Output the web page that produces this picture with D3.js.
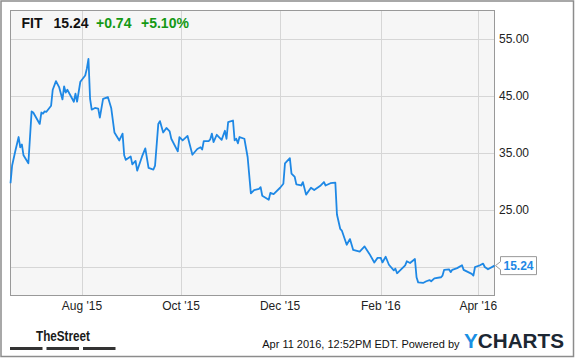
<html>
<head>
<script src="https://d3js.org/d3.v7.min.js"></script>
<title>FIT</title>
<style>
  body { margin: 0; padding: 0; background: #fff; }
  svg { display: block; font-family: "Liberation Sans", Arial, sans-serif; }
</style>
</head>
<body>
<script>

var dates = [
  "2015-06-18","2015-06-19","2015-06-21","2015-06-23","2015-06-24","2015-06-25","2015-06-26","2015-06-29",
  "2015-07-01","2015-07-02","2015-07-06","2015-07-07","2015-07-08","2015-07-09","2015-07-10","2015-07-13",
  "2015-07-14","2015-07-16","2015-07-18","2015-07-20","2015-07-21","2015-07-22","2015-07-23","2015-07-27",
  "2015-07-28","2015-07-29","2015-07-31","2015-08-03","2015-08-04","2015-08-05","2015-08-06","2015-08-07",
  "2015-08-09","2015-08-11","2015-08-12","2015-08-14","2015-08-17","2015-08-19","2015-08-21","2015-08-24",
  "2015-08-26","2015-08-27","2015-08-28","2015-08-31","2015-09-01","2015-09-03","2015-09-04","2015-09-07",
  "2015-09-09","2015-09-11","2015-09-14","2015-09-15","2015-09-17","2015-09-18","2015-09-20","2015-09-22",
  "2015-09-24","2015-09-25","2015-09-29","2015-09-30","2015-10-02","2015-10-05","2015-10-08","2015-10-11",
  "2015-10-13","2015-10-14","2015-10-15","2015-10-18","2015-10-19","2015-10-20","2015-10-21","2015-10-23",
  "2015-10-26","2015-10-28","2015-10-29","2015-10-30","2015-11-02","2015-11-03","2015-11-04","2015-11-05",
  "2015-11-06","2015-11-09","2015-11-11","2015-11-13","2015-11-15","2015-11-18","2015-11-19","2015-11-20",
  "2015-11-24","2015-11-25","2015-11-27","2015-12-01","2015-12-03","2015-12-04","2015-12-07","2015-12-08",
  "2015-12-10","2015-12-11","2015-12-14","2015-12-15","2015-12-17","2015-12-20","2015-12-22","2015-12-26",
  "2015-12-28","2015-12-29","2016-01-01","2016-01-04","2016-01-05","2016-01-07","2016-01-08","2016-01-11",
  "2016-01-13","2016-01-15","2016-01-19","2016-01-22","2016-01-25","2016-01-28","2016-01-30","2016-02-01",
  "2016-02-02","2016-02-04","2016-02-06","2016-02-09","2016-02-10","2016-02-11","2016-02-16","2016-02-17",
  "2016-02-19","2016-02-22","2016-02-23","2016-02-24","2016-02-27","2016-02-29","2016-03-02","2016-03-03",
  "2016-03-05","2016-03-09","2016-03-10","2016-03-11","2016-03-14","2016-03-15","2016-03-16","2016-03-19",
  "2016-03-22","2016-03-23","2016-03-28","2016-03-29","2016-03-30","2016-04-02","2016-04-04","2016-04-05",
  "2016-04-07","2016-04-11"
];

var prices = [
  29.7, 32.8, 35.4, 37.8, 36.0, 36.5, 34.6, 33.2,
  42.3, 42.1, 40.1, 42.1, 41.9, 42.3, 42.2, 43.3,
  46.1, 47.6, 46.5, 44.4, 46.7, 45.6, 46.1, 44.0,
  45.4, 44.0, 47.5, 48.6, 49.8, 51.5, 44.5, 42.6,
  42.9, 42.8, 41.2, 44.5, 44.8, 42.9, 38.6, 37.2,
  38.4, 34.6, 33.8, 34.4, 33.0, 33.6, 31.9, 34.4,
  35.8, 32.4, 32.1, 32.8, 40.1, 40.6, 38.6, 39.4,
  38.8, 37.5, 35.3, 37.8, 37.2, 38.0, 34.7, 35.7,
  36.0, 35.6, 37.1, 37.1, 37.4, 38.4, 36.9, 38.2,
  37.3, 38.9, 37.5, 40.4, 40.7, 37.2, 37.5, 36.7,
  37.8, 37.5, 34.3, 27.9, 28.5, 28.7, 29.0, 27.5,
  26.8, 28.0, 27.8, 28.9, 29.6, 33.2, 34.1, 31.4,
  30.8, 29.5, 29.3, 29.9, 27.7, 28.9, 28.5, 29.3,
  29.9, 29.3, 29.7, 29.8, 24.2, 21.7, 21.4, 18.9,
  19.9, 18.0, 17.7, 18.6, 17.3, 15.8, 16.6, 16.6,
  15.8, 16.8, 15.4, 14.4, 14.7, 13.9, 15.3, 16.0,
  15.7, 16.4, 13.2, 12.3, 12.2, 12.5, 12.7, 12.5,
  13.0, 13.2, 13.5, 14.5, 14.6, 14.1, 14.5, 14.8,
  15.3, 14.5, 13.8, 13.5, 15.0, 15.3, 15.6, 15.0,
  14.6, 15.24
];

var yTicks = [15, 25, 35, 45, 55];
var yLabels = [25, 35, 45, 55];   // 15.00 sits under the last-price flag
var xTicks = ["2015-08-01", "2015-10-01", "2015-12-01", "2016-02-01", "2016-04-01"];
var xTickLabels = ["Aug '15", "Oct '15", "Dec '15", "Feb '16", "Apr '16"];

var symbol = "FIT", lastPrice = "15.24", change = "+0.74", changePct = "+5.10%";

var width = 575, height = 358;
var parse = d3.timeParse("%Y-%m-%d");

var data = dates.map(function(d, i) { return {date: parse(d), value: prices[i]}; });

var plot = {left: 10.5, top: 10.5, right: 494.5, bottom: 295.5};

var x = d3.scaleTime()
    .domain([parse("2015-06-18"), parse("2016-04-11")])
    .range([plot.left, plot.right]);

var y = d3.scaleLinear()
    .domain([10, 60])
    .range([plot.bottom, plot.top]);

var svg = d3.select("body").append("svg")
    .attr("width", width)
    .attr("height", height);

// outer frame
svg.append("rect")
    .attr("x", 1).attr("y", 1)
    .attr("width", width - 2.5).attr("height", height - 2.5)
    .attr("fill", "#fff")
    .attr("stroke", "#8c8c8c")
    .attr("stroke-width", 1.5);

// plot background
svg.append("rect")
    .attr("x", plot.left).attr("y", plot.top)
    .attr("width", plot.right - plot.left).attr("height", plot.bottom - plot.top)
    .attr("fill", "#f6f6f6");

// gridlines
svg.append("g").selectAll("line")
  .data(yTicks)
  .enter().append("line")
    .attr("x1", plot.left).attr("x2", plot.right)
    .attr("y1", function(d) { return Math.round(y(d)) + 0.5; })
    .attr("y2", function(d) { return Math.round(y(d)) + 0.5; })
    .attr("stroke", "#d6d6d6");

svg.append("g").selectAll("line")
  .data(xTicks)
  .enter().append("line")
    .attr("x1", function(d) { return Math.round(x(parse(d))) + 0.5; })
    .attr("x2", function(d) { return Math.round(x(parse(d))) + 0.5; })
    .attr("y1", plot.top).attr("y2", plot.bottom)
    .attr("stroke", "#d6d6d6");

// plot border
svg.append("rect")
    .attr("x", plot.left).attr("y", plot.top)
    .attr("width", plot.right - plot.left).attr("height", plot.bottom - plot.top)
    .attr("fill", "none")
    .attr("stroke", "#999");

// y labels
svg.append("g").selectAll("text")
  .data(yLabels)
  .enter().append("text")
    .attr("x", 499)
    .attr("y", function(d) { return y(d) + 4; })
    .attr("font-size", 12)
    .attr("fill", "#222")
    .text(function(d) { return d3.format(".2f")(d); });

// x labels
svg.append("g").selectAll("text")
  .data(xTicks)
  .enter().append("text")
    .attr("x", function(d) { return x(parse(d)); })
    .attr("y", 309.5)
    .attr("text-anchor", "middle")
    .attr("font-size", 12)
    .attr("fill", "#222")
    .text(function(d, i) { return xTickLabels[i]; });

// price line
var line = d3.line()
    .x(function(d) { return x(d.date); })
    .y(function(d) { return y(d.value); });

svg.append("path")
    .datum(data)
    .attr("d", line)
    .attr("fill", "none")
    .attr("stroke", "#1e88e5")
    .attr("stroke-width", 1.8)
    .attr("stroke-linejoin", "round");

// last value flag
var last = data[data.length - 1];
var ly = y(last.value);
svg.append("path")
    .attr("d", "M500.5," + (ly - 9) + "H536.5V" + (ly + 9) + "H500.5V" + (ly + 4) +
               "L495.5," + ly + "L500.5," + (ly - 4) + "Z")
    .attr("fill", "#fff")
    .attr("stroke", "#999");
svg.append("text")
    .attr("x", 518.5).attr("y", ly + 4.5)
    .attr("text-anchor", "middle")
    .attr("font-size", 12)
    .attr("font-weight", "bold")
    .attr("fill", "#1e88e5")
    .text(lastPrice);

// header
var head = svg.append("text")
    .attr("y", 28)
    .attr("font-size", 14)
    .attr("font-weight", "bold");
head.append("tspan").attr("x", 21.5).attr("fill", "#111").text(symbol);
head.append("tspan").attr("x", 53.5).attr("fill", "#111").text(lastPrice);
head.append("tspan").attr("x", 96).attr("fill", "#149914").text(change);
head.append("tspan").attr("x", 141).attr("fill", "#149914").text(changePct);

// footer: TheStreet
svg.append("text")
    .attr("x", 36).attr("y", 341)
    .attr("font-family", "'Liberation Sans Narrow', 'Liberation Sans', sans-serif")
    .attr("font-size", 15)
    .attr("font-weight", "bold")
    .attr("fill", "#1a1a1a")
    .attr("textLength", 54)
    .attr("lengthAdjust", "spacingAndGlyphs")
    .text("TheStreet");

svg.append("g").selectAll("rect")
  .data([10, 46.5, 83])
  .enter().append("rect")
    .attr("x", function(d) { return d; })
    .attr("y", 347)
    .attr("width", 32.5)
    .attr("height", 3)
    .attr("fill", "#333");

// footer: timestamp and logo
svg.append("text")
    .attr("x", 459.5).attr("y", 348)
    .attr("text-anchor", "end")
    .attr("font-size", 11)
    .attr("fill", "#111")
    .text("Apr 11 2016, 12:52PM EDT.  Powered by");

var logo = svg.append("text")
    .attr("x", 464).attr("y", 348)
    .attr("font-size", 19.5)
    .attr("font-weight", "bold")
    .attr("textLength", 100)
    .attr("lengthAdjust", "spacingAndGlyphs");
logo.append("tspan").attr("fill", "#1a8fe3").text("Y");
logo.append("tspan").attr("fill", "#1c2733").text("CHARTS");

</script>
</body>
</html>
